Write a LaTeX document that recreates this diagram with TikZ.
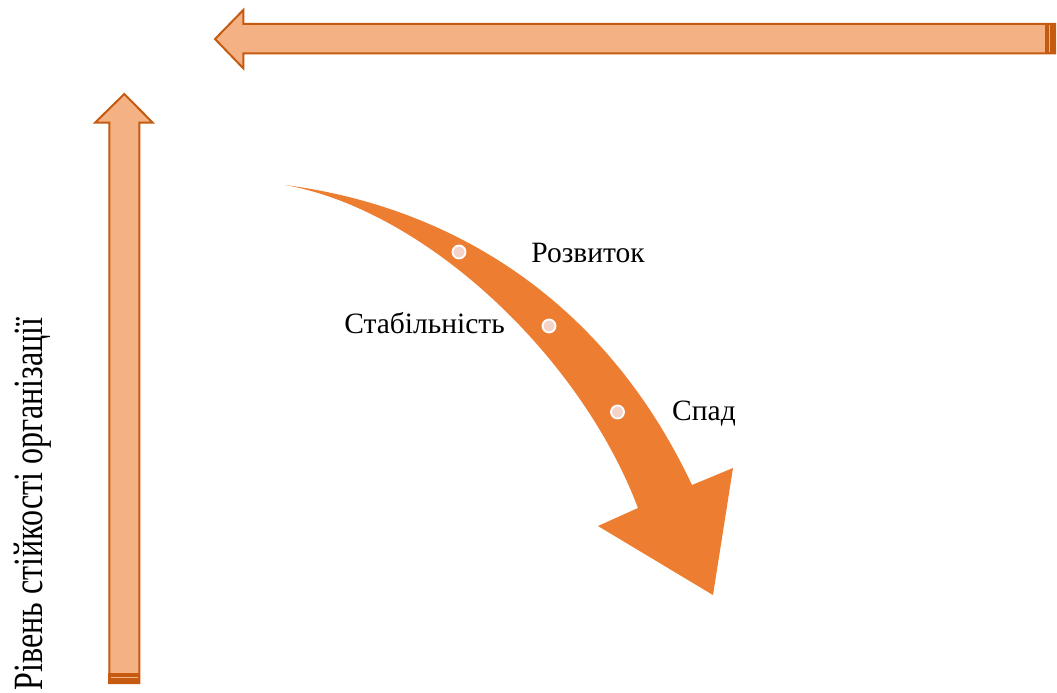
\documentclass[tikz,border=0pt]{standalone}
\usepackage{fontspec}
\setmainfont{Liberation Serif}
\newfontfamily\timesfont{Liberation Serif}
\definecolor{arrfill}{HTML}{F4B183}
\definecolor{arrline}{HTML}{C55A11}
\definecolor{curvefill}{HTML}{ED7D31}
\definecolor{dotfill}{HTML}{F5D3C9}
\begin{document}
\begin{tikzpicture}[x=1pt,y=-1pt,
  blockarrow/.style={fill=arrfill,draw=arrline,line width=2pt,line join=miter},
  endband/.style={fill=arrline},
  endline/.style={draw=arrfill,line width=1pt},
  stagedot/.style={circle,fill=dotfill,draw=white,line width=1.8pt,minimum size=13pt,inner sep=0pt},
  stagelabel/.style={font=\timesfont\fontsize{29.5}{35}\selectfont,anchor=base,inner sep=0pt},
  axislabel/.style={font=\timesfont\fontsize{32}{38}\selectfont,anchor=base,rotate=90,inner sep=0pt}]
\useasboundingbox (0,0) rectangle (1057,693);
% horizontal arrow
\draw[blockarrow] (215,39) -- (243.3,10) -- (243.3,24) -- (1055,24) -- (1055,53.3) -- (243.3,53.3) -- (243.3,68.3) -- cycle;
\fill[endband] (1045,23) rectangle (1056,54.3);
\draw[endline] (1049.5,25.5) -- (1049.5,52);
% vertical arrow
\draw[blockarrow] (124.3,94) -- (152.7,122.7) -- (139.3,122.7) -- (139.3,683) -- (109.3,683) -- (109.3,122.7) -- (95,122.7) -- cycle;
\fill[endband] (108.3,672.7) rectangle (140.3,684);
\draw[endline] (110.5,677.3) -- (138,677.3);
% curved arrow
\fill[curvefill] (285,185) .. controls (440,205) and (600,290) .. (692,485)
  -- (733,468) -- (713,595) -- (598,526) -- (638,508)
  .. controls (580,355) and (425,210) .. (285,185) -- cycle;
% stage dots
\node[stagedot] (d1) at (459,252) {};
\node[stagedot] (d2) at (549,326) {};
\node[stagedot] (d3) at (617.5,412) {};
% labels
\node[stagelabel] (rozv) at (588,262) {Розвиток};
\node[stagelabel] (stab) at (424.5,333) {Стабільність};
\node[stagelabel] (spad) at (704,420) {Спад};
\node[axislabel] (axis) at (42,504) {\scalebox{1}[1.3]{Рівень стійкості організації}};
\end{tikzpicture}
\end{document}
